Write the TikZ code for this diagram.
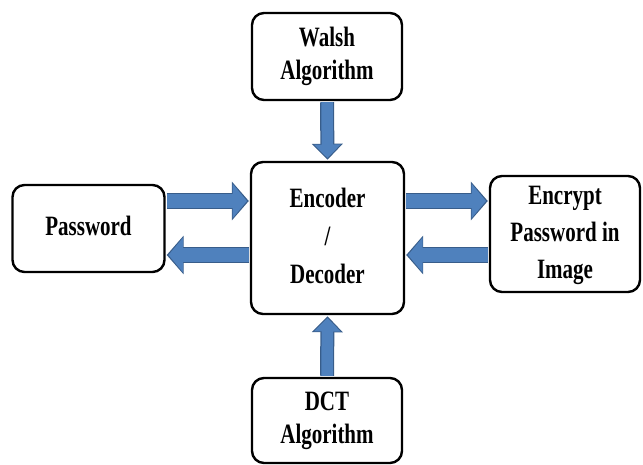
\documentclass[tikz,border=0pt]{standalone}
\usepackage{fontspec}
\setmainfont{Liberation Serif}
\usepackage{graphicx}
\usetikzlibrary{arrows.meta}
\definecolor{arrowfill}{HTML}{4F81BD}
\definecolor{arrowedge}{HTML}{385D8A}
\newcommand{\mylbl}[2]{\scalebox{0.75}[1]{\fontsize{28}{#1}\selectfont\bfseries\begin{tabular}{@{}c@{}}#2\end{tabular}}}
\newcommand{\barrowh}[2]{%
  \draw[arrowedge, line width=16.5pt, -{Triangle[length=17pt,width=38pt]}] #1 -- #2;
  \draw[arrowfill, line width=14pt, shorten >=1.8pt, -{Triangle[length=14.5pt,width=34pt]}] #1 -- #2;}
\newcommand{\barrowv}[2]{%
  \draw[arrowedge, line width=14pt, -{Triangle[length=16pt,width=30pt]}] #1 -- #2;
  \draw[arrowfill, line width=11.5pt, shorten >=1.8pt, -{Triangle[length=13.5pt,width=26pt]}] #1 -- #2;}
\begin{document}
\begin{tikzpicture}[x=1pt,y=-1pt,
  box/.style={draw=black, line width=2.4pt, rounded corners=12pt, fill=white, inner sep=0pt, align=center}]
\useasboundingbox (0,0) rectangle (643,465);
\node[box, minimum width=150pt, minimum height=87pt] (walsh) at (327,56.5) {\raisebox{-2pt}{\mylbl{33}{Walsh\\Algorithm}}};
\node[box, minimum width=153pt, minimum height=152pt] (enc) at (327.5,238) {\raisebox{-1pt}{\mylbl{38}{Encoder\\/\\Decoder}}};
\node[box, minimum width=152pt, minimum height=87pt] (pw) at (88.5,228.5) {\raisebox{-2pt}{\mylbl{33}{Password}}};
\node[box, minimum width=150pt, minimum height=116pt] (encr) at (565,234) {\raisebox{-2pt}{\mylbl{37}{Encrypt\\Password in\\Image}}};
\node[box, minimum width=150pt, minimum height=85pt] (dct) at (327,420.5) {\raisebox{-2pt}{\mylbl{33}{DCT\\Algorithm}}};
\coordinate (upper) at (0,201);
\coordinate (lower) at (0,255);
\barrowh{([xshift=1pt]pw.east |- upper)}{([xshift=-1pt]enc.west |- upper)}
\barrowh{([xshift=-1pt]enc.west |- lower)}{([xshift=1pt]pw.east |- lower)}
\barrowh{([xshift=1pt]enc.east |- upper)}{([xshift=-1pt]encr.west |- upper)}
\barrowh{([xshift=-1pt]encr.west |- lower)}{([xshift=1pt]enc.east |- lower)}
\barrowv{([yshift=-1pt]walsh.south)}{([yshift=1pt]enc.north)}
\barrowv{([yshift=1pt]dct.north)}{([yshift=-1pt]enc.south)}
\end{tikzpicture}
\end{document}
